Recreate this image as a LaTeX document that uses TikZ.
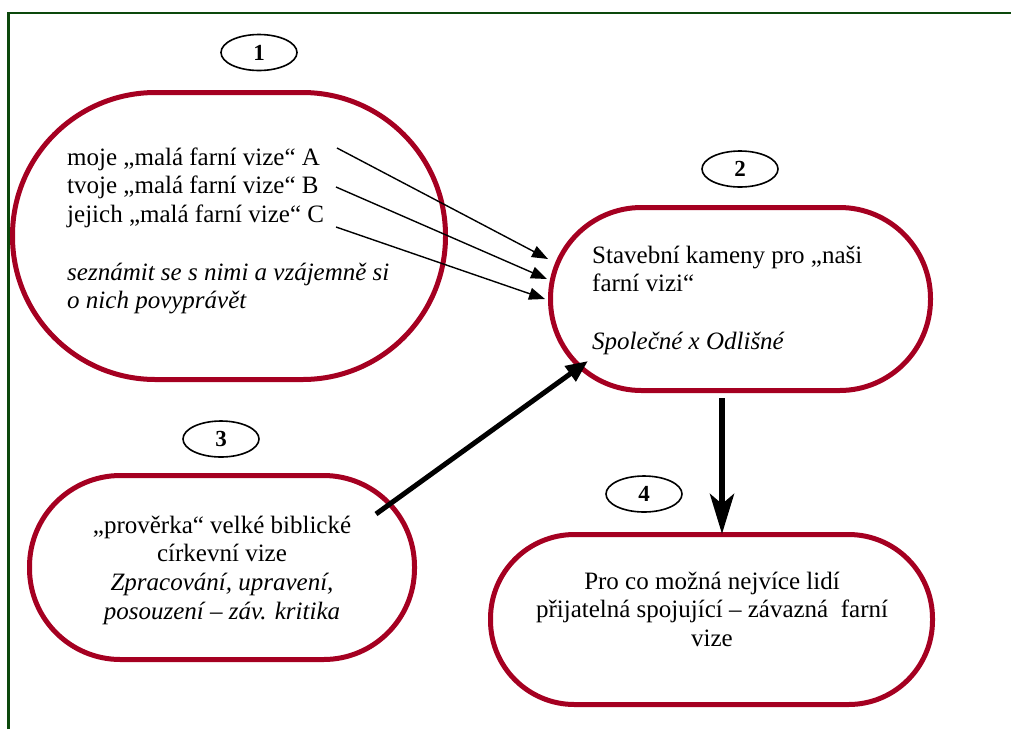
\documentclass[tikz,border=0pt]{standalone}
\usepackage{fontspec}
\setmainfont{LiberationSerif}[Extension=.ttf, UprightFont=*-Regular, BoldFont=*-Bold, ItalicFont=*-Italic, BoldItalicFont=*-BoldItalic]
\usetikzlibrary{shapes.geometric,arrows.meta}
\definecolor{boxred}{RGB}{165,0,33}
\definecolor{framegreen}{RGB}{12,72,12}
\tikzset{
  stadium/.style={draw=boxred, line width=5pt, rounded corners=#1, inner sep=0pt},
  numoval/.style={draw=black, line width=1.6pt, ellipse, inner sep=0pt,
    minimum width=76pt, minimum height=36pt,
    font=\fontsize{23}{26}\selectfont\bfseries},
  txt/.style={font=\fontsize{25}{28.75}\selectfont, inner sep=0pt},
  thinarrow/.style={line width=1.4pt, -{Triangle[length=16pt,width=12pt]}},
  thickarrow/.style={line width=5pt, -{Triangle[length=22pt,width=18pt]}},
  downarrow/.style={line width=6pt, -{Stealth[length=40pt,width=24pt,inset=10pt]}},
  frameline/.style={draw=framegreen, line width=2.2pt}
}
\begin{document}
\begin{tikzpicture}[x=1pt,y=-1pt]
\useasboundingbox (0,0) rectangle (1011,729);
% frame
\draw[frameline] (8.5,729) -- (8.5,13) -- (1011,13);
% boxes
\node[stadium=143pt, minimum width=433pt, minimum height=287pt] (box1) at (229,236) {};
\node[stadium=91pt, minimum width=380pt, minimum height=183pt] (box2) at (740.5,299) {};
\node[stadium=91pt, minimum width=385pt, minimum height=184pt] (box3) at (222,567.5) {};
\node[stadium=84pt, minimum width=442pt, minimum height=170pt] (box4) at (711.5,619.5) {};
% number ovals
\node[numoval] (n1) at (259,52.5) {\raisebox{-3pt}{1}};
\node[numoval] (n2) at (740,169) {\raisebox{-3pt}{2}};
\node[numoval] (n3) at (221,439) {\raisebox{-3pt}{3}};
\node[numoval] (n4) at (644,494) {\raisebox{-3pt}{4}};
% texts
\node[txt, anchor=north west, align=left] (t1) at (67,144.9)
  {\strut moje „malá farní vize“ A\\
   \strut tvoje „malá farní vize“ B\\
   \strut jejich „malá farní vize“ C\\[28.75pt]
   \strut\itshape seznámit se s nimi a vzájemně si\\
   \strut\itshape o nich povyprávět};
\node[txt, anchor=north west, align=left] (t2) at (592,242.9)
  {\strut Stavební kameny pro „naši\\
   \strut farní vizi“\\[28.75pt]
   \strut\itshape Společné x Odlišné};
\node[txt, anchor=north, align=center] (t3) at (222,512.9)
  {\strut „prověrka“ velké biblické\\
   \strut církevní vize\\
   \strut\itshape Zpracování, upravení,\\
   \strut\itshape posouzení – záv. kritika};
\node[txt, anchor=north, align=center] (t4) at (712,568.9)
  {\strut Pro co možná nejvíce lidí\\
   \strut přijatelná spojující – závazná~ farní\\
   \strut vize};
% connector end points
\coordinate (a1s) at (337,148);
\coordinate (a1e) at (548,259);
\coordinate (a2s) at (336,187);
\coordinate (a2e) at (547,279);
\coordinate (a3s) at (336,227);
\coordinate (a3e) at (545,299);
\coordinate (bs) at (376,514);
\coordinate (be) at (588,361);
\coordinate (cs) at (722,398);
\coordinate (ce) at (722,534);
% connectors
\draw[thinarrow] (a1s) -- (a1e);
\draw[thinarrow] (a2s) -- (a2e);
\draw[thinarrow] (a3s) -- (a3e);
\draw[thickarrow] (bs) -- (be);
\draw[downarrow] (cs) -- (ce);
\end{tikzpicture}
\end{document}
